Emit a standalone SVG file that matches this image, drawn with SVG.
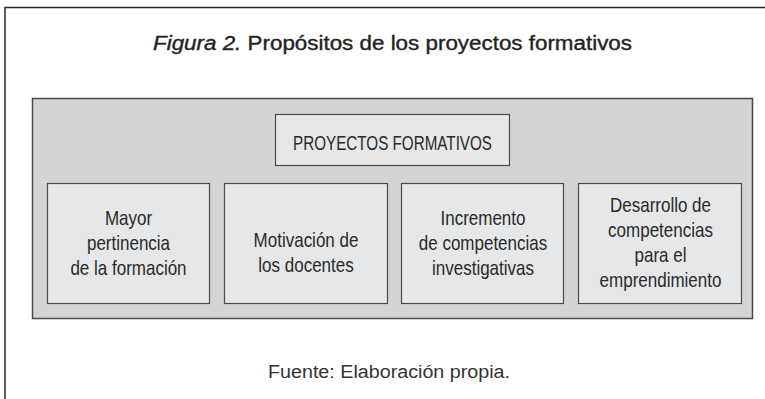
<svg xmlns="http://www.w3.org/2000/svg" width="765" height="399" viewBox="0 0 765 399">
<style>
.frame{fill:none;stroke:#2a2a2a;stroke-width:1.5}
.panel{fill:#d3d4d6;stroke:#4a4a4a;stroke-width:1.5}
.box{fill:#e6e7e8;stroke:#4a4a4a;stroke-width:1.2}
.lbl{font-family:"Liberation Sans",Arial,sans-serif;font-size:20px;fill:#2a2a2a;text-anchor:middle}
.title{font-family:"Liberation Sans",Arial,sans-serif;font-size:19.5px;fill:#222;stroke:#222;stroke-width:0.35;text-anchor:middle}
.src{font-family:"Liberation Sans",Arial,sans-serif;font-size:18px;fill:#333;text-anchor:middle}
</style>
<rect width="765" height="399" fill="#fff"/>
<path class="frame" d="M5,400 V7.5 H766"/>
<text class="title" x="392.5" y="50" textLength="479" lengthAdjust="spacingAndGlyphs"><tspan font-style="italic">Figura 2.</tspan> Propósitos de los proyectos formativos</text>
<rect class="panel" x="32.5" y="98.5" width="720" height="220"/>
<g id="proyectos">
<rect class="box" x="275.5" y="114.5" width="234" height="51"/>
<text class="lbl" x="392.5" y="150" textLength="199" lengthAdjust="spacingAndGlyphs">PROYECTOS FORMATIVOS</text>
</g>
<g id="pertinencia">
<rect class="box" x="47.5" y="183.5" width="162" height="120"/>
<g transform="translate(128.5,0) scale(0.85,1)">
<text class="lbl" x="0" y="225">Mayor</text>
<text class="lbl" x="0" y="250">pertinencia</text>
<text class="lbl" x="0" y="275">de la formación</text>
</g>
</g>
<g id="motivacion">
<rect class="box" x="224.5" y="183.5" width="163" height="120"/>
<g transform="translate(306,0) scale(0.85,1)">
<text class="lbl" x="0" y="247">Motivación de</text>
<text class="lbl" x="0" y="272">los docentes</text>
</g>
</g>
<g id="incremento">
<rect class="box" x="401.5" y="183.5" width="162" height="120"/>
<g transform="translate(483,0) scale(0.85,1)">
<text class="lbl" x="0" y="225">Incremento</text>
<text class="lbl" x="0" y="250">de competencias</text>
<text class="lbl" x="0" y="275">investigativas</text>
</g>
</g>
<g id="desarrollo">
<rect class="box" x="578.5" y="183.5" width="163" height="120"/>
<g transform="translate(660.5,0) scale(0.85,1)">
<text class="lbl" x="0" y="212">Desarrollo de</text>
<text class="lbl" x="0" y="237">competencias</text>
<text class="lbl" x="0" y="262">para el</text>
<text class="lbl" x="0" y="287">emprendimiento</text>
</g>
</g>
<g id="connectors"></g>
<text class="src" x="389" y="378" textLength="242" lengthAdjust="spacingAndGlyphs">Fuente: Elaboración propia.</text>
</svg>
